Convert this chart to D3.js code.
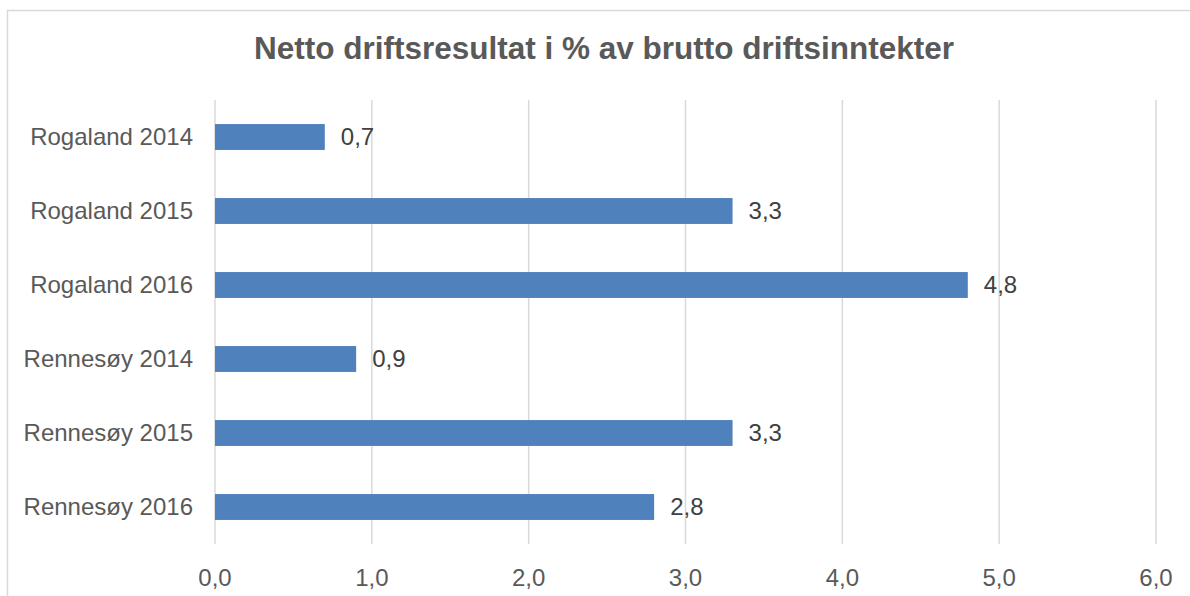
<!DOCTYPE html>
<html>
<head>
<meta charset="utf-8">
<script src="https://cdn.jsdelivr.net/npm/d3@7"></script>
<style>
    body { margin: 0; background: #fff; }
    svg text { font-family: Arial, "Liberation Sans", sans-serif; }
</style>
</head>
<body>
<script>
const categories = ["Rogaland 2014", "Rogaland 2015", "Rogaland 2016",
                    "Rennesøy 2014", "Rennesøy 2015", "Rennesøy 2016"];
const values = [0.7, 3.3, 4.8, 0.9, 3.3, 2.8];
const xTicks = [0, 1, 2, 3, 4, 5, 6];
const title = "Netto driftsresultat i % av brutto driftsinntekter";

const width = 1190, height = 596;
const margins = {top: 100, left: 215, right: 34, bottom: 52};

const svg = d3.select('body')
    .append('svg')
    .attr('width', width)
    .attr('height', height);

// chart frame
svg.append('rect')
    .attr('x', 7.5)
    .attr('y', 10.5)
    .attr('width', 1195)
    .attr('height', 600)
    .attr('fill', 'none')
    .attr('stroke', '#d9d9d9')
    .attr('stroke-width', 1.5);

svg.append('text')
    .attr('x', 604)
    .attr('y', 59)
    .attr('text-anchor', 'middle')
    .attr('font-size', 31.5)
    .attr('font-weight', 'bold')
    .attr('fill', '#595959')
    .text(title);

const x = d3.scaleLinear()
    .domain([0, 6])
    .range([margins.left, width - margins.right]);

const y = d3.scaleBand()
    .domain(categories)
    .range([margins.top, height - margins.bottom])
    .paddingInner(0.65)
    .paddingOuter(0.325);

const body = svg.append('g').attr('class', 'body');

// gridlines
body.selectAll('line.grid')
    .data(xTicks)
    .enter()
    .append('line')
    .attr('class', 'grid')
    .attr('x1', d => x(d))
    .attr('x2', d => x(d))
    .attr('y1', margins.top)
    .attr('y2', height - margins.bottom)
    .attr('stroke', '#d9d9d9')
    .attr('stroke-width', 1.5);

// x tick labels
body.selectAll('text.tick')
    .data(xTicks)
    .enter()
    .append('text')
    .attr('class', 'tick')
    .attr('x', d => x(d))
    .attr('y', 586)
    .attr('text-anchor', 'middle')
    .attr('font-size', 24)
    .attr('fill', '#595959')
    .text(d => d3.format('.1f')(d).replace('.', ','));

// category labels
body.selectAll('text.cat')
    .data(categories)
    .enter()
    .append('text')
    .attr('class', 'cat')
    .attr('x', margins.left - 22)
    .attr('y', d => y(d) + y.bandwidth() / 2)
    .attr('dy', '0.35em')
    .attr('text-anchor', 'end')
    .attr('font-size', 24)
    .attr('fill', '#595959')
    .text(d => d);

// bars
body.selectAll('rect.bar')
    .data(values)
    .enter()
    .append('rect')
    .attr('class', 'bar')
    .attr('x', x(0))
    .attr('y', (d, i) => y(categories[i]))
    .attr('width', d => x(d) - x(0))
    .attr('height', y.bandwidth())
    .attr('fill', '#4f81bd');

// value labels
body.selectAll('text.val')
    .data(values)
    .enter()
    .append('text')
    .attr('class', 'val')
    .attr('x', d => x(d) + 16)
    .attr('y', (d, i) => y(categories[i]) + y.bandwidth() / 2)
    .attr('dy', '0.35em')
    .attr('font-size', 24)
    .attr('fill', '#404040')
    .text(d => d3.format('.1f')(d).replace('.', ','));
</script>
</body>
</html>
